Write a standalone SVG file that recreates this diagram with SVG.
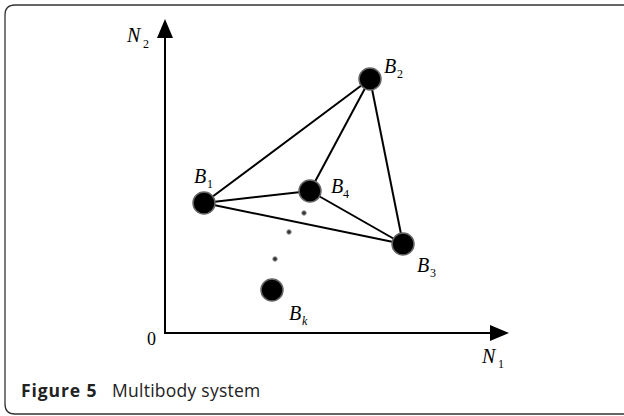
<svg xmlns="http://www.w3.org/2000/svg" width="624" height="416" viewBox="0 0 624 416">
<style>
.lbl{font-family:"Liberation Serif",serif;font-style:italic;font-size:20px;fill:#000}
.sub{font-family:"Liberation Serif",serif;font-size:12px;fill:#000}
.sub-i{font-family:"Liberation Serif",serif;font-style:italic;font-size:12px;fill:#000}
.num{font-family:"Liberation Serif",serif;font-size:18px;fill:#000}
.node{fill:#000;stroke:#666;stroke-width:1.5}
.edge{stroke:#000;stroke-width:2;fill:none}
.axis{stroke:#000;stroke-width:2;fill:none}
.dot{fill:#333;stroke:#888;stroke-width:1}
.cap{font-family:"Open Sans","Noto Sans",sans-serif;font-size:17.5px;fill:#222}
</style>
<path d="M624 5 H15 Q5 5 5 15 V404 Q5 414 15 414 H624" fill="none" stroke="#333" stroke-width="1.3"/>
<g id="axes">
<line class="axis" x1="165" y1="334" x2="165" y2="36"/>
<polygon points="165,19 157,38 173,38" fill="#000"/>
<line class="axis" x1="164" y1="333" x2="492" y2="333"/>
<polygon points="509,333 490,325 490,341" fill="#000"/>
<text class="num" x="147" y="345">0</text>
<text class="lbl" x="127" y="42">N</text><text class="sub" x="143" y="48">2</text>
<text class="lbl" x="482" y="363">N</text><text class="sub" x="498" y="368">1</text>
</g>
<g id="connectors">
<line class="edge" x1="204" y1="203" x2="370" y2="79"/>
<line class="edge" x1="204" y1="203" x2="310" y2="191"/>
<line class="edge" x1="204" y1="203" x2="403" y2="244"/>
<line class="edge" x1="310" y1="191" x2="370" y2="79"/>
<line class="edge" x1="310" y1="191" x2="403" y2="244"/>
<line class="edge" x1="370" y1="79" x2="403" y2="244"/>
</g>
<g id="B1"><circle class="node" cx="204" cy="203" r="11"/><text class="lbl" x="194" y="183">B</text><text class="sub" x="207" y="188">1</text></g>
<g id="B2"><circle class="node" cx="370" cy="79" r="11"/><text class="lbl" x="384" y="73">B</text><text class="sub" x="397" y="78">2</text></g>
<g id="B4"><circle class="node" cx="310" cy="191" r="11"/><text class="lbl" x="331" y="193">B</text><text class="sub" x="343" y="198">4</text></g>
<g id="B3"><circle class="node" cx="403" cy="244" r="11"/><text class="lbl" x="417" y="272">B</text><text class="sub" x="430" y="277">3</text></g>
<g id="Bk"><circle class="node" cx="272" cy="290" r="11"/><text class="lbl" x="289" y="320">B</text><text class="sub-i" x="302" y="325">k</text></g>
<g id="dots">
<circle class="dot" cx="304" cy="213" r="2.2"/>
<circle class="dot" cx="289" cy="232" r="2.2"/>
<circle class="dot" cx="275" cy="259" r="2.2"/>
</g>
<g id="caption"><text class="cap" x="21" y="397"><tspan font-weight="bold" letter-spacing="0.9">Figure 5</tspan><tspan x="112" letter-spacing="0.25">Multibody system</tspan></text></g>
</svg>
